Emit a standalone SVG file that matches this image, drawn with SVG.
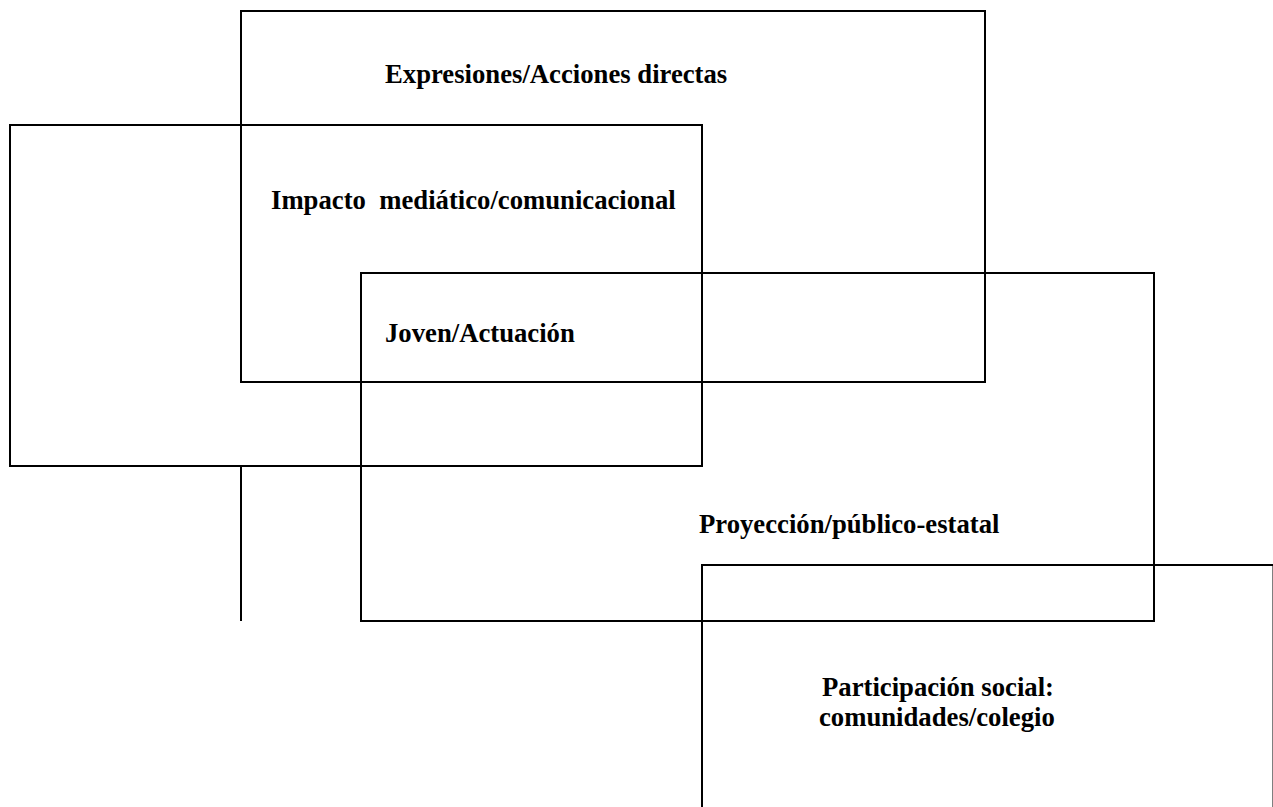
<svg xmlns="http://www.w3.org/2000/svg" width="1273" height="807" viewBox="0 0 1273 807">
<style>
.box{fill:none;stroke:#000;stroke-width:2}
.t{font-family:"Liberation Serif","Times New Roman",serif;font-weight:bold;font-size:26.7px;fill:#000;white-space:pre}
</style>
<rect width="1273" height="807" fill="#fff"/>
<g id="n-expresiones">
<rect class="box" x="241" y="11" width="744" height="371"/>
<text class="t" x="385" y="83">Expresiones/Acciones directas</text>
</g>
<g id="n-impacto">
<rect class="box" x="10" y="125" width="692" height="341"/>
<text class="t" x="271" y="209" xml:space="preserve">Impacto  mediático/comunicacional</text>
</g>
<g id="n-joven">
<text class="t" x="385" y="342">Joven/Actuación</text>
</g>
<g id="n-proyeccion">
<rect class="box" x="361" y="273" width="793" height="348"/>
<text class="t" x="699" y="533">Proyección/público-estatal</text>
</g>
<g id="n-participacion">
<path class="box" d="M702,807 V565 H1273.5 V807"/>
<text class="t" x="822" y="696">Participación social:</text>
<text class="t" x="819" y="726">comunidades/colegio</text>
</g>
<g id="connectors">
<line class="box" x1="241" y1="466" x2="241" y2="621"/>
</g>
</svg>
